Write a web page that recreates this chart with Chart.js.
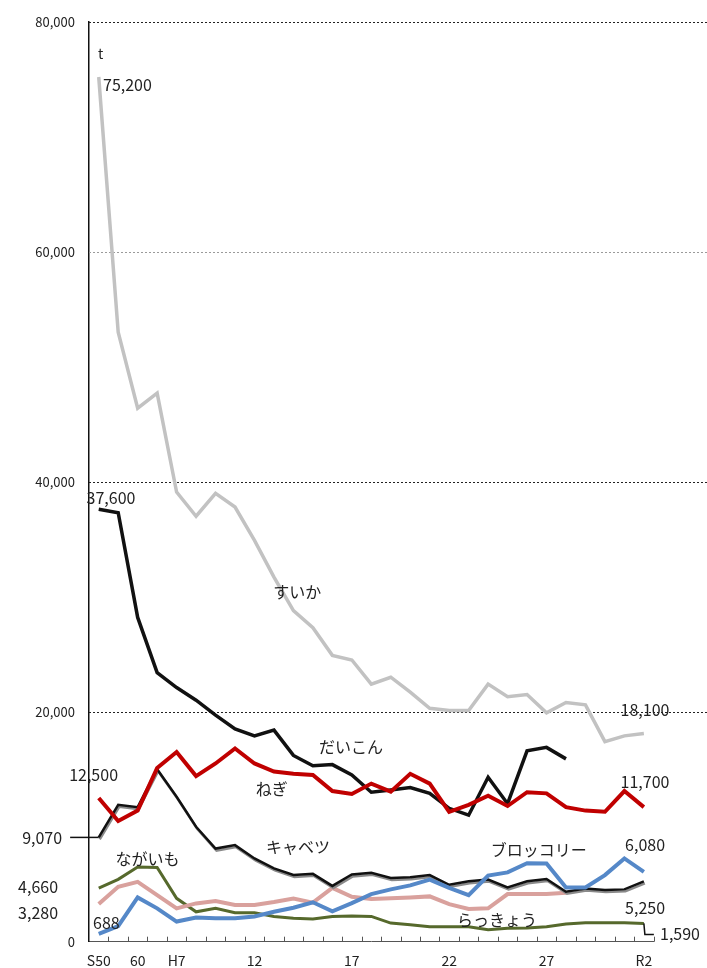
<!DOCTYPE html>
<html>
<head>
<meta charset="utf-8">
<script src="https://cdn.jsdelivr.net/npm/chart.js@4.4.1/dist/chart.umd.min.js"></script>
<style>
  body { margin: 0; background: #fff; }
  canvas { display: block; }
</style>
</head>
<body>
<canvas id="myChart" width="707" height="968"></canvas>
<script>
// DATA
const categories = ['S50','S55','S60','H2','H7','H8','H9','H10','H12','H13','H14','H15','H16','H17','H18',
  'H19','H20','H21','H22','H23','H24','H25','H26','H27','H28','H29','H30','R1','R2'];
const tickLabels = ['S50','','60','','H7','','','','12','','','','','17','','','','','22','','','','','27','','','','','R2'];

const suika    = [75200, 53000, 46400, 47700, 39100, 37000, 39000, 37800, 34900, 31700, 28800, 27300, 24900, 24500, 22400,
                  23000, 21700, 20300, 20100, 20100, 22400, 21300, 21500, 19900, 20800, 20600, 17400, 17900, 18100];
const daikon   = [37600, 37300, 28200, 23400, 22100, 21000, 19700, 18500, 17900, 18400, 16200, 15300, 15400, 14500, 13000,
                  13200, 13400, 12900, 11600, 11000, 14300, 12000, 16600, 16900, 15900, null, null, null, null];
const negi     = [12500, 10500, 11400, 15100, 16500, 14400, 15500, 16800, 15500, 14800, 14600, 14500, 13100, 12850, 13750,
                  13050, 14600, 13750, 11300, 11900, 12700, 11800, 13000, 12900, 11700, 11400, 11300, 13100, 11700];
const cabbage  = [9070, 11900, 11700, 15000, 12600, 10000, 8100, 8400, 7240, 6370, 5800, 5900, 4850, 5850, 5990,
                  5550, 5600, 5790, 4950, 5250, 5400, 4720, 5250, 5450, 4350, 4630, 4500, 4550, 5250];
const broccoli = [688, 1350, 3850, 2900, 1750, 2100, 2030, 2030, 2200, 2600, 2950, 3430, 2650, 3360, 4140,
                  4550, 4900, 5400, 4680, 4050, 5750, 6030, 6830, 6800, 4720, 4720, 5790, 7240, 6080];
const nagaimo  = [3280, 4770, 5200, 4050, 2900, 3330, 3530, 3200, 3200, 3450, 3750, 3400, 4680, 3910, 3720,
                  3770, 3850, 3940, 3260, 2850, 2900, 4140, 4140, 4140, 4250, null, null, null, null];
const rakkyo   = [4660, 5420, 6500, 6450, 3770, 2600, 2900, 2520, 2520, 2200, 2030, 1980, 2200, 2230, 2200,
                  1620, 1480, 1300, 1300, 1300, 1050, 1160, 1200, 1300, 1540, 1650, 1650, 1650, 1590];

const gridValues = [20000, 40000, 60000, 80000];
const gridColors = ['#222', '#222', '#9a9a9a', '#222'];

// text notes placed by (category index, value)
const notes = [
  {text: 't',       i: -0.04, v: 77200, align: 'left',   size: 14},
  {text: '75,200',  i: 0.22,  v: 74540, align: 'left'},
  {text: '37,600',  i: 0.63,  v: 38630, align: 'center'},
  {text: 'すいか',   i: 10.2,  v: 30380, align: 'center'},
  {text: 'だいこん', i: 12.96, v: 16930, align: 'center'},
  {text: 'ねぎ',     i: 8.89,  v: 13320, align: 'center'},
  {text: '12,500',  i: 0.99,  v: 14470, align: 'right'},
  {text: '9,070',   i: -1.88, v: 9000,  align: 'right'},
  {text: '4,660',   i: -2.09, v: 4750,  align: 'right'},
  {text: '3,280',   i: -2.09, v: 2490,  align: 'right'},
  {text: '688',     i: -0.29, v: 1600,  align: 'left'},
  {text: 'ながいも', i: 2.5,   v: 7240,  align: 'center'},
  {text: 'キャベツ', i: 10.24, v: 8250,  align: 'center'},
  {text: 'ブロッコリー', i: 22.6, v: 7960, align: 'center'},
  {text: '6,080',   i: 28.06, v: 8390,  align: 'center'},
  {text: '5,250',   i: 28.06, v: 2900,  align: 'center'},
  {text: 'らっきょう', i: 20.46, v: 1880, align: 'center'},
  {text: '1,590',   i: 28.83, v: 670,   align: 'left'},
  {text: '18,100',  i: 28.06, v: 20170, align: 'center'},
  {text: '11,700',  i: 28.06, v: 13890, align: 'center'}
];

const fontFam = '"Noto Sans CJK JP", "Noto Sans", sans-serif';

function line(label, data, color, width) {
  return {
    label: label,
    data: data,
    borderColor: color,
    backgroundColor: color,
    borderWidth: width,
    pointRadius: 0,
    pointHoverRadius: 0,
    tension: 0,
    fill: false,
    clip: false
  };
}

const extras = {
  id: 'extras',
  beforeDatasetsDraw(chart) {
    const {ctx, chartArea, scales: {x, y}} = chart;
    ctx.save();
    ctx.lineWidth = 1;
    ctx.setLineDash([2, 2]);
    gridValues.forEach((v, k) => {
      const py = Math.round(y.getPixelForValue(v)) + 0.5;
      ctx.strokeStyle = gridColors[k];
      ctx.beginPath();
      ctx.moveTo(chartArea.left, py);
      ctx.lineTo(chart.width, py);
      ctx.stroke();
    });
    ctx.setLineDash([]);
    // small tick marks pointing up from the x axis
    ctx.strokeStyle = '#555';
    const w = (chartArea.right - chartArea.left) / categories.length;
    for (let i = 1; i <= categories.length; i++) {
      const px = Math.round(chartArea.left + i * w) + 0.5;
      ctx.beginPath();
      ctx.moveTo(px, chartArea.bottom);
      ctx.lineTo(px, chartArea.bottom - 5);
      ctx.stroke();
    }
    ctx.restore();
  },
  beforeDatasetDraw(chart, args) {
    if (chart.data.datasets[args.index].label === 'キャベツ') {
      const ctx = chart.ctx;
      ctx.save();
      ctx.shadowColor = '#8a8a8a';
      ctx.shadowOffsetX = 1;
      ctx.shadowOffsetY = 2;
      ctx.shadowBlur = 0;
    }
  },
  afterDatasetDraw(chart, args) {
    if (chart.data.datasets[args.index].label === 'キャベツ') {
      chart.ctx.restore();
    }
  },
  afterDatasetsDraw(chart) {
    const {ctx, scales: {x, y}} = chart;
    ctx.save();
    // leader lines
    ctx.strokeStyle = '#111';
    ctx.lineWidth = 1.5;
    const ly = y.getPixelForValue(cabbage[0]);
    ctx.beginPath();
    ctx.moveTo(x.getPixelForValue(-1.88) + 8, ly);
    ctx.lineTo(x.getPixelForValue(0), ly);
    ctx.stroke();
    const last = rakkyo.length - 1;
    const ex = x.getPixelForValue(last);
    const ey = y.getPixelForValue(rakkyo[last]);
    ctx.beginPath();
    ctx.moveTo(ex, ey);
    ctx.lineTo(ex + 1, ey + 11);
    ctx.lineTo(ex + 10, ey + 11);
    ctx.stroke();
    // notes
    ctx.fillStyle = '#222';
    ctx.textBaseline = 'middle';
    notes.forEach(n => {
      ctx.font = (n.size || 16) + 'px ' + fontFam;
      ctx.textAlign = n.align;
      ctx.fillText(n.text, x.getPixelForValue(n.i), y.getPixelForValue(n.v));
    });
    ctx.restore();
  }
};

const myChart = new Chart(document.getElementById('myChart'), {
  type: 'line',
  data: {
    labels: categories,
    datasets: [
      line('ねぎ', negi, '#c00000', 4),
      line('ブロッコリー', broccoli, '#5588c8', 4),
      line('だいこん', daikon, '#111111', 3.5),
      line('キャベツ', cabbage, '#111111', 2.5),
      line('ながいも', nagaimo, '#d9a19d', 4),
      line('らっきょう', rakkyo, '#56692c', 3),
      line('すいか', suika, '#c2c2c2', 3.5)
    ]
  },
  options: {
    responsive: false,
    animation: false,
    devicePixelRatio: 1,
    layout: { padding: { top: 20, right: 53.4, left: 0, bottom: 0 } },
    plugins: { legend: { display: false }, tooltip: { enabled: false } },
    scales: {
      x: {
        type: 'category',
        offset: true,
        grid: { display: true, color: 'transparent', drawTicks: false, offset: true },
        border: { display: true, color: '#555', width: 1 },
        ticks: {
          autoSkip: false,
          maxRotation: 0,
          padding: 11,
          color: '#222',
          font: { family: fontFam, size: 14 },
          callback: (v, i) => tickLabels[i]
        },
        afterFit: scale => { scale.height = 26.3; }
      },
      y: {
        min: 0,
        max: 80000,
        grid: { display: true, color: 'transparent', drawTicks: false },
        border: { display: true, color: '#111', width: 1.5 },
        ticks: {
          stepSize: 20000,
          padding: 14,
          color: '#222',
          font: { family: fontFam, size: 13 },
          callback: v => v.toLocaleString('en-US')
        },
        afterFit: scale => { scale.width = 89; }
      }
    }
  },
  plugins: [extras]
});
</script>
</body>
</html>
